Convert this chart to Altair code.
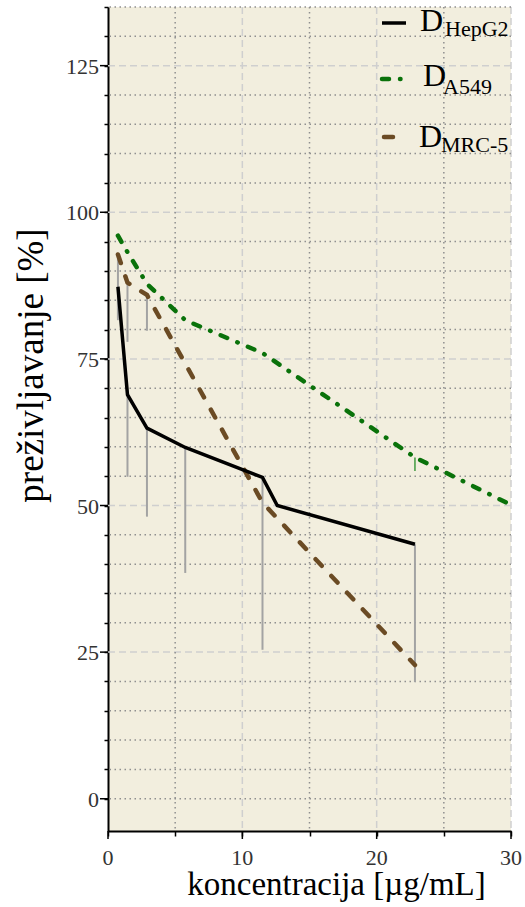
import altair as alt
import pandas as pd

# ---- data ----
hep_x = [0.74, 1.45, 2.9, 5.75, 11.5, 12.6, 22.85]
hep_y = [87.3, 68.9, 63.2, 59.9, 54.8, 50.0, 43.4]
hep_err_x = [0.74, 1.45, 2.9, 5.75, 11.5, 22.85]
hep_err_top = [87.3, 68.9, 63.2, 59.9, 54.8, 43.4]
hep_err_low = [82.0, 54.9, 48.1, 38.5, 25.4, 19.9]

a549_x = [0.74, 1.45, 2.9, 5.75, 11.5, 22.85, 30.0]
a549_y = [96.0, 93.2, 87.8, 81.6, 76.0, 58.2, 50.1]
a549_err_x = [22.85]
a549_err_top = [58.2]
a549_err_low = [55.9]

mrc_x = [0.74, 1.45, 2.9, 5.75, 11.5, 22.85]
mrc_y = [92.8, 88.0, 85.9, 74.2, 50.5, 22.8]
mrc_err_x = [0.74, 1.45, 2.9]
mrc_err_top = [92.8, 88.0, 85.9]
mrc_err_low = [81.6, 77.9, 79.8]

x_ticks = [0, 5, 10, 15, 20, 25, 30]
x_major = [0, 10, 20, 30]
x_grid_major = [10, 20, 30]
x_grid_minor = [5, 15, 25]
y_ticks = list(range(0, 136, 5))
y_major = [0, 25, 50, 75, 100, 125]
y_grid_major = [25, 50, 75, 100, 125]
y_grid_minor = [v for v in y_ticks if v not in y_grid_major]

legend_names = ["HepG2", "A549", "MRC-5"]

# ---- styles ----
FONT = "Liberation Serif"
BLACK = "#000000"
GREEN = "#0a720a"
BROWN = "#6b4b24"
ERR = "#a3a3a3"
BG = "#F2EEDE"
GRID_DOT = "#8f8f8f"
GRID_DASH = "#cfcfcf"
LABEL = "#333333"

xscale = alt.Scale(domain=[0, 30], nice=False, zero=False)
yscale = alt.Scale(domain=[-5.5, 135], nice=False, zero=False)

xaxis = alt.Axis(
    values=x_ticks, labels=False,
    title="koncentracija [µg/mL]",
    titleFont=FONT, titleFontWeight="normal", titleColor="black",
    titleX=228, titleY=63, titleAlign="center", titleBaseline="alphabetic",
    titleFontSize=33,
    tickSize=5, tickColor="black", tickWidth=1.5,
    domainColor="black", domainWidth=2,
    grid=False,
)

yaxis = alt.Axis(
    values=y_ticks, labels=False,
    title="preživljavanje [%]",
    titleFont=FONT, titleFontWeight="normal", titleColor="black",
    titleX=-66, titleY=358, titleAngle=-90, titleAlign="center", titleBaseline="alphabetic",
    titleFontSize=37,
    tickSize=4, tickColor="black", tickWidth=1.5,
    domainColor="black", domainWidth=2,
    grid=False,
)

def X(f="x"):
    return alt.X(f + ":Q", scale=xscale, axis=xaxis)

def Y(f="y"):
    return alt.Y(f + ":Q", scale=yscale, axis=yaxis)

# ---- grid lines (under everything) ----
def vgrid(values, color, dash):
    return alt.Chart(pd.DataFrame({"x": values})).mark_rule(
        color=color, strokeWidth=1.5, strokeDash=dash).encode(x=X())

def hgrid(values, color, dash):
    return alt.Chart(pd.DataFrame({"y": values})).mark_rule(
        color=color, strokeWidth=1.5, strokeDash=dash).encode(y=Y())

grids = [
    vgrid(x_grid_major, GRID_DASH, [7, 4]),
    hgrid(y_grid_major, GRID_DASH, [7, 4]),
    vgrid(x_grid_minor, GRID_DOT, [1.5, 3.5]),
    hgrid(y_grid_minor, GRID_DOT, [1.5, 3.5]),
]

# longer major ticks and their labels (placed through the scales)
major_x_ticks = alt.Chart(pd.DataFrame({"x": x_major})).mark_rule(
    color="black", strokeWidth=1.5).encode(x=X(), y=alt.value(824), y2=alt.value(832))
major_y_ticks = alt.Chart(pd.DataFrame({"y": y_major})).mark_rule(
    color="black", strokeWidth=1.5).encode(y=Y(), x=alt.value(-8), x2=alt.value(0))

x_labels = alt.Chart(pd.DataFrame({"x": x_major})).mark_text(
    font=FONT, fontSize=22, color=LABEL, align="center", baseline="alphabetic"
).encode(x=X(), y=alt.value(858), text=alt.Text("x:Q", format="d"))
y_labels = alt.Chart(pd.DataFrame({"y": y_major})).mark_text(
    font=FONT, fontSize=22, color=LABEL, align="right", baseline="middle", dy=1
).encode(y=Y(), x=alt.value(-9), text=alt.Text("y:Q", format="d"))

df_hep = pd.DataFrame({"x": hep_x, "y": hep_y})
df_a549 = pd.DataFrame({"x": a549_x, "y": a549_y})
df_mrc = pd.DataFrame({"x": mrc_x, "y": mrc_y})
df_hep_err = pd.DataFrame({"x": hep_err_x, "y": hep_err_top, "low": hep_err_low})
df_a549_err = pd.DataFrame({"x": a549_err_x, "y": a549_err_top, "low": a549_err_low})
df_mrc_err = pd.DataFrame({"x": mrc_err_x, "y": mrc_err_top, "low": mrc_err_low})

err_hep = alt.Chart(df_hep_err).mark_rule(color=ERR, strokeWidth=2).encode(
    x=X(), y=Y(), y2="low:Q")
err_mrc = alt.Chart(df_mrc_err).mark_rule(color=ERR, strokeWidth=2).encode(
    x=X(), y=Y(), y2="low:Q")
err_a549 = alt.Chart(df_a549_err).mark_rule(color="#3f9a3f", strokeWidth=1.5).encode(
    x=X(), y=Y(), y2="low:Q")

line_a549 = alt.Chart(df_a549).mark_line(
    color=GREEN, strokeWidth=4.5, strokeDash=[7, 11, 0.5, 11], strokeCap="round"
).encode(x=X(), y=Y(), order="x:Q")
line_mrc = alt.Chart(df_mrc).mark_line(
    color=BROWN, strokeWidth=4.5, strokeDash=[9, 14], strokeCap="round"
).encode(x=X(), y=Y(), order="x:Q")
line_hep = alt.Chart(df_hep).mark_line(
    color=BLACK, strokeWidth=3.5, strokeJoin="miter"
).encode(x=X(), y=Y(), order="x:Q")

# ---- hand-made legend (subscripted labels) ----
one = pd.DataFrame({"k": [0]})

def leg_rule(x1, x2, y, color, width, dash=None):
    kw = dict(color=color, strokeWidth=width, strokeCap="round" if dash else "butt")
    if dash:
        kw["strokeDash"] = dash
    return alt.Chart(one).mark_rule(**kw).encode(
        x=alt.value(x1), x2=alt.value(x2), y=alt.value(y))

def leg_text(txt, x, y, size):
    return alt.Chart(one).mark_text(
        font=FONT, fontSize=size, align="left", baseline="alphabetic", color="black"
    ).encode(x=alt.value(x), y=alt.value(y), text=alt.value(txt))

legend = [
    leg_rule(274, 298, 16, BLACK, 3.5),
    leg_text("D", 312, 24, 32),
    leg_text(legend_names[0], 337, 29, 22),
    leg_rule(274, 294, 72, GREEN, 4.5, [7, 11, 0.5, 11]),
    leg_text("D", 315, 79, 32),
    leg_text(legend_names[1], 335, 87, 22),
    leg_rule(276, 295, 130, BROWN, 4.5, [9, 10]),
    leg_text("D", 311, 140, 32),
    leg_text(legend_names[2], 333, 145, 22),
]

chart = alt.layer(
    *grids, major_x_ticks, major_y_ticks, x_labels, y_labels,
    err_hep, err_mrc, err_a549, line_a549, line_mrc, line_hep, *legend
).properties(
    width=403, height=824,
    autosize=alt.AutoSizeParams(type="none"),
    padding={"left": 108, "top": 7, "right": 14, "bottom": 76},
    background="white",
).configure_view(
    fill=BG, stroke=None
)

chart.save("out.html", embed_options={"renderer": "svg", "actions": False})
